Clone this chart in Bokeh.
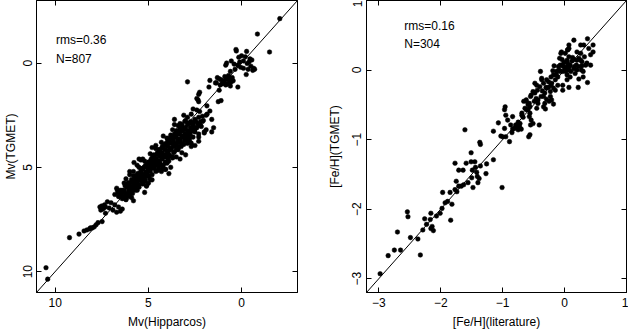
from bokeh.plotting import figure
from bokeh.models import Range1d, LinearAxis, FixedTicker, Slope, Label
from bokeh.layouts import row
from bokeh.embed import file_html
from bokeh.resources import INLINE

FONT = "Liberation Sans"

# ---------------- Left panel data: Mv(Hipparcos) vs Mv(TGMET) ----------------
mv_hip_bright = [-2.05, -0.85, -1.5, 0.3, 0.28, -0.27, 0.0, -0.2, 0.15, -0.45,
                 -0.55, 0.55, 0.8, 0.85, -0.1, 0.1, -0.3, -0.65, -0.7, -0.6,
                 -0.25, 0.05, -0.1, 0.2, 0.4, 0.35, -0.5, -0.35, 0.6, -0.4,
                 0.5, 0.6, 0.7, 0.8, 0.9, 1.0, 1.1, 1.2, 0.55, 0.65,
                 0.75, 0.85, 0.95, 1.05, 0.45, 1.3, 1.4, 0.9, 0.7, 1.15,
                 0.6, 0.2, 1.7, 1.75, 1.2, 2.25, 2.3, 2.9, 2.4, 2.3,
                 1.1, 1.25, 2.6, 2.4, 1.6, 1.85, 1.35, 1.86, 2.25, 2.34]
mv_tg_bright = [-2.13, -1.39, -0.53, -0.65, -0.58, -0.56, -0.35, -0.3, -0.28, -0.2,
                -0.15, -0.1, 0.0, 0.1, -0.1, -0.05, 0.02, 0.25, 0.3, 0.35,
                0.55, 0.2, 0.25, 0.1, 0.05, 0.3, 0.15, 0.3, 0.4, -0.05,
                0.7, 0.75, 0.8, 0.7, 0.85, 0.9, 0.8, 0.75, 0.9, 0.95,
                1.0, 1.05, 0.95, 1.0, 0.85, 0.7, 0.95, 0.65, 0.6, 1.05,
                1.1, 1.15, 0.83, 1.15, 1.3, 1.4, 1.5, 0.9, 1.7, 1.85,
                1.8, 1.85, 2.2, 2.25, 2.7, 2.45, 0.95, 2.05, 2.32, 1.76]

mv_hip_band = [3.1, 2.9, 2.7, 2.5, 2.3, 2.1, 3.0, 2.6, 3.3, 2.2,
               3.6, 3.4, 3.2, 3.0, 2.8, 2.6, 2.4, 2.2, 1.9, 1.6,
               3.7, 3.5, 3.3, 3.1, 2.9, 2.7, 2.5, 2.3, 2.0, 1.5,
               4.2, 4.0, 3.8, 3.6, 3.4, 3.2, 3.0, 2.8, 2.6, 2.3,
               4.3, 4.1, 3.9, 3.7, 3.5, 3.3, 3.1, 2.9, 2.7, 2.5,
               4.8, 4.6, 4.4, 4.2, 4.0, 3.8, 3.6, 3.4, 3.2, 3.0,
               4.9, 4.7, 4.5, 4.3, 4.1, 3.9, 3.7, 3.5, 3.3, 4.6,
               5.4, 5.2, 5.0, 4.8, 4.6, 4.4, 4.2, 4.0, 3.8, 5.6,
               5.5, 5.3, 5.1, 4.9, 4.7, 4.5, 4.3, 4.1, 5.8, 3.9,
               6.0, 5.8, 5.6, 5.4, 5.2, 5.0, 4.8, 6.2, 5.7, 5.3,
               6.3, 6.1, 5.9, 5.5, 5.1, 4.9, 6.0, 5.6, 5.2, 6.4,
               6.7, 6.5, 6.3, 6.1, 5.9, 6.6, 6.4, 6.2, 6.8, 5.8,
               7.2, 7.0, 6.8, 6.6, 6.4, 7.1, 6.9, 6.7, 7.3, 6.5]
mv_tg_band = [2.5, 2.6, 2.45, 2.7, 2.6, 2.55, 2.75, 2.85, 2.9, 2.8,
              2.95, 3.0, 3.05, 3.1, 2.9, 3.0, 3.1, 3.0, 3.2, 3.3,
              3.2, 3.25, 3.3, 3.2, 3.35, 3.25, 3.3, 3.4, 3.35, 3.1,
              3.5, 3.6, 3.45, 3.55, 3.65, 3.5, 3.6, 3.7, 3.55, 3.75,
              3.8, 3.9, 3.75, 3.85, 3.95, 3.8, 3.9, 3.85, 4.0, 3.95,
              4.05, 4.1, 4.15, 4.0, 4.2, 4.1, 4.25, 4.15, 4.3, 4.4,
              4.35, 4.4, 4.3, 4.45, 4.5, 4.4, 4.55, 4.5, 4.6, 4.6,
              4.65, 4.7, 4.75, 4.8, 4.7, 4.85, 4.9, 4.8, 5.0, 4.9,
              5.0, 5.05, 4.95, 5.1, 5.0, 5.15, 5.2, 5.1, 5.2, 5.3,
              5.35, 5.4, 5.45, 5.35, 5.5, 5.4, 5.6, 5.55, 5.65, 5.7,
              5.75, 5.8, 5.7, 5.85, 5.9, 5.6, 6.0, 6.1, 6.2, 6.1,
              6.0, 6.1, 6.2, 6.3, 6.45, 6.4, 6.5, 6.55, 6.3, 6.6,
              6.65, 6.7, 6.8, 6.9, 7.0, 6.95, 7.05, 7.15, 7.2, 7.1]

# dense core of the main-sequence blob
mv_hip_core = [3.05, 2.72, 2.45, 2.1, 3.2, 2.9, 2.6, 2.3, 3.3, 3.05,
               2.75, 2.45, 3.45, 3.2, 2.9, 2.55, 3.6, 3.35, 3.05, 2.75,
               3.8, 3.5, 3.2, 2.9, 3.95, 3.65, 3.35, 3.05, 4.05, 3.8,
               3.5, 3.2, 4.25, 3.95, 3.65, 3.35, 4.4, 4.1, 3.8, 3.5,
               4.5, 4.25, 3.95, 3.65, 4.7, 4.4, 4.1, 3.85, 4.85, 4.55,
               4.25, 3.95, 4.95, 4.7, 4.4, 4.1, 5.15, 4.85, 4.55, 4.3,
               5.3, 5.0, 4.7, 4.45, 5.4, 5.15, 4.9, 4.6, 5.6, 5.3,
               5.05, 4.8, 5.7, 5.45, 5.2, 4.95, 5.85, 5.6, 5.35, 5.15,
               6.0, 5.75, 5.55, 5.3, 6.15, 5.9, 5.7, 5.5, 6.3, 6.05,
               5.85, 5.7, 6.45, 6.2, 6.0, 5.85, 6.55, 6.35, 6.15, 6.0,
               2.85, 2.35, 3.12, 2.62, 3.38, 2.82, 3.55, 3.02, 3.72, 3.28,
               3.92, 3.42, 4.08, 3.6, 4.22, 3.78, 4.38, 3.96, 4.52, 4.12,
               4.68, 4.28, 4.86, 4.42, 5.02, 4.62, 5.22, 4.78, 5.38, 4.98,
               5.55, 5.12, 5.72, 5.3, 5.9, 5.48, 6.08, 5.66, 6.25, 5.8]
mv_tg_core = [2.8, 2.8, 2.8, 2.8, 2.95, 2.95, 2.95, 2.95, 3.1, 3.1,
              3.1, 3.1, 3.25, 3.25, 3.25, 3.25, 3.4, 3.4, 3.4, 3.4,
              3.55, 3.55, 3.55, 3.55, 3.7, 3.7, 3.7, 3.7, 3.85, 3.85,
              3.85, 3.85, 4.0, 4.0, 4.0, 4.0, 4.15, 4.15, 4.15, 4.15,
              4.3, 4.3, 4.3, 4.3, 4.45, 4.45, 4.45, 4.45, 4.6, 4.6,
              4.6, 4.6, 4.75, 4.75, 4.75, 4.75, 4.9, 4.9, 4.9, 4.9,
              5.05, 5.05, 5.05, 5.05, 5.2, 5.2, 5.2, 5.2, 5.35, 5.35,
              5.35, 5.35, 5.5, 5.5, 5.5, 5.5, 5.65, 5.65, 5.65, 5.65,
              5.8, 5.8, 5.8, 5.8, 5.95, 5.95, 5.95, 5.95, 6.1, 6.1,
              6.1, 6.1, 6.25, 6.25, 6.25, 6.25, 6.4, 6.4, 6.4, 6.4,
              2.88, 2.9, 3.18, 3.2, 3.33, 3.36, 3.48, 3.5, 3.63, 3.66,
              3.78, 3.8, 3.93, 3.96, 4.08, 4.1, 4.23, 4.26, 4.38, 4.4,
              4.53, 4.56, 4.68, 4.7, 4.83, 4.86, 4.98, 5.0, 5.13, 5.16,
              5.28, 5.3, 5.43, 5.46, 5.58, 5.6, 5.73, 5.76, 5.88, 5.9]

mv_hip_faint = [7.6, 7.5, 7.4, 7.3, 7.45, 7.55, 7.35, 7.48, 7.7, 7.8,
                7.9, 8.0, 8.15, 8.3, 8.45, 8.72, 9.23, 10.49, 10.4, 8.1,
                5.77, 4.77, 5.1, 5.0, 4.25, 4.07, 6.67, 6.63, 6.2, 1.9,
                2.16, 2.0, 2.3, 2.7, 3.0, 3.24, 3.7, 3.9, 4.41, 5.5,
                6.0, 4.6, 3.6, 1.7, 2.05, 2.5, 2.8, 3.5, 4.0, 5.3]
mv_tg_faint = [6.9, 6.85, 6.95, 6.9, 7.0, 7.05, 6.8, 7.6, 7.65, 7.75,
               7.85, 7.9, 7.95, 8.0, 8.05, 8.2, 8.37, 9.81, 10.36, 7.9,
               4.77, 4.48, 5.86, 5.76, 5.04, 5.09, 6.08, 6.21, 6.53, 2.5,
               3.04, 3.3, 3.55, 3.84, 3.7, 4.0, 4.5, 4.7, 4.8, 4.6,
               5.2, 3.95, 2.7, 2.3, 2.75, 3.15, 3.6, 3.35, 3.9, 4.6]

mv_ticks = [0, 5, 10]

# ---------------- Right panel data: [Fe/H] literature vs TGMET ----------------
feh_lit_poor = [-2.98, -2.85, -2.75, -2.65, -2.70, -2.49, -2.54, -2.53, -2.37, -2.33,
                -2.29, -2.26, -2.23, -2.17, -2.16, -2.16, -2.14, -2.12, -2.07, -2.01,
                -1.98, -1.97, -1.89, -1.93, -1.84, -1.82, -1.85, -1.77, -1.74, -1.71,
                -1.75, -1.67, -1.63, -1.77, -1.71, -1.64, -1.56, -1.50, -1.48, -1.59,
                -1.51, -1.45, -1.44, -1.49, -1.42, -1.41, -1.40, -1.38, -1.36, -1.26,
                -1.27, -1.37, -1.36, -1.51, -1.15, -1.61, -1.01, -1.15, -1.07, -1.03]
feh_tg_poor = [-2.93, -2.67, -2.59, -2.59, -2.33, -2.41, -2.04, -2.11, -2.43, -2.66,
               -2.30, -2.14, -2.22, -2.15, -2.28, -2.06, -2.25, -2.31, -2.10, -2.06,
               -1.99, -1.76, -1.89, -1.91, -2.16, -1.93, -1.76, -1.72, -1.75, -1.67,
               -1.60, -1.67, -1.65, -1.34, -1.44, -1.44, -1.62, -1.55, -1.69, -1.34,
               -1.32, -1.32, -1.40, -1.44, -1.47, -1.53, -1.62, -1.56, -1.38, -1.35,
               -1.49, -1.04, -1.07, -1.19, -1.29, -0.86, -1.69, -0.88, -0.76, -0.95]

feh_lit_mid = [-1.00, -0.96, -0.97, -0.95, -0.97, -0.95, -0.92, -0.89, -0.87, -0.84,
               -0.85, -0.84, -0.81, -0.78, -0.79, -0.75, -0.75, -0.73, -0.72, -0.70,
               -0.67, -0.69, -0.69, -0.64, -0.62, -0.59, -0.57, -0.56, -0.62, -0.56,
               -0.54, -0.55, -0.51, -0.58, -0.56, -0.59, -0.57, -0.49, -0.46, -0.45,
               -0.43, -0.41, -0.39, -0.37, -0.34, -0.34, -0.36, -0.32, -0.30, -0.29,
               -0.29, -0.26, -0.26, -0.23, -0.22, -0.22, -0.21, -0.19, -0.18, -0.18,
               -0.21, -0.23, -0.25, -0.18, -0.34, -0.31, -0.32, -0.29, -0.43, -0.38,
               -0.40, -0.37, -0.51, -0.48, -0.45, -0.44, -0.54, -0.55, -0.62, -0.66,
               -0.48, -0.17]
feh_tg_mid = [-0.96, -0.53, -0.57, -0.65, -0.84, -0.96, -0.72, -1.03, -0.79, -0.67,
              -0.90, -0.85, -0.84, -0.81, -0.79, -0.75, -0.86, -0.81, -0.77, -0.85,
              -0.68, -0.65, -0.62, -0.55, -0.45, -0.50, -0.48, -0.53, -0.57, -0.62,
              -0.72, -0.79, -0.77, -0.96, -0.93, -0.57, -0.67, -0.45, -0.41, -0.55,
              -0.43, -0.79, -0.02, -0.12, -0.38, -0.19, -0.30, -0.33, -0.25, -0.14,
              -0.26, -0.17, -0.25, -0.31, -0.22, -0.10, -0.19, -0.01, -0.07, -0.26,
              -0.43, -0.38, -0.45, -0.49, -0.53, -0.56, -0.48, -0.42, -0.48, -0.38,
              -0.24, -0.14, -0.31, -0.33, -0.22, -0.29, -0.36, -0.38, -0.43, -0.45,
              -0.19, 0.06]

feh_lit_rich = [-0.15, -0.15, -0.13, -0.13, -0.11, -0.10, -0.09, -0.08, -0.07, -0.07,
                -0.06, -0.05, -0.04, -0.03, -0.03, -0.02, -0.01, 0.01, 0.02, 0.04,
                0.04, 0.04, 0.05, 0.07, 0.08, 0.09, 0.09, 0.10, 0.12, 0.13,
                0.15, 0.15, 0.16, 0.17, 0.19, 0.20, 0.22, 0.23, 0.23, 0.27,
                0.28, 0.30, 0.30, 0.31, 0.37, 0.39, 0.42, 0.46, 0.46, 0.37,
                0.42, 0.07, 0.07, 0.01, 0.05, -0.03, 0.07, 0.04, 0.15, 0.26,
                0.26, 0.20, 0.23, 0.26, 0.28, 0.34, 0.32, 0.36, 0.20, 0.07,
                0.05, -0.04, -0.11]
feh_tg_rich = [-0.29, -0.14, -0.02, -0.07, -0.10, 0.05, 0.00, 0.17, 0.07, -0.02,
               0.24, 0.26, 0.15, -0.02, -0.29, 0.05, 0.11, 0.02, -0.02, 0.14,
               0.05, -0.07, 0.10, 0.00, 0.05, 0.07, -0.10, -0.02, 0.13, 0.18,
               0.15, 0.02, 0.05, -0.05, 0.07, 0.00, -0.25, -0.13, 0.05, 0.00,
               0.06, -0.02, -0.10, 0.36, 0.45, 0.31, 0.07, 0.36, 0.26, -0.18,
               0.22, 0.36, 0.31, 0.24, 0.29, -0.22, -0.25, -0.14, 0.43, 0.36,
               0.24, 0.26, 0.17, 0.14, 0.12, 0.07, 0.19, 0.10, 0.14, 0.19,
               0.29, 0.07, -0.22]

feh_ticks = [-3, -2, -1, 0, 1]
feh_labels = {-3: "\u22123", -2: "\u22122", -1: "\u22121", 0: "0", 1: "1"}


def style(p, ticks, overrides, ylabel_standoff, ytick_standoff):
    p.grid.visible = False
    p.outline_line_color = "black"
    p.outline_line_width = 1
    extra_top = LinearAxis()
    extra_right = LinearAxis()
    p.add_layout(extra_top, "above")
    p.add_layout(extra_right, "right")
    for ax in p.axis:
        ax.ticker = FixedTicker(ticks=ticks)
        ax.major_tick_in = 5
        ax.major_tick_out = 0
        ax.minor_tick_line_color = None
        ax.axis_line_color = "black"
        ax.major_tick_line_color = "black"
        ax.major_label_text_font = FONT
        ax.major_label_text_font_size = "12px"
        ax.major_label_text_color = "black"
        ax.axis_label_text_font = FONT
        ax.axis_label_text_font_size = "12px"
        ax.axis_label_text_font_style = "normal"
        ax.axis_label_text_color = "black"
        if overrides:
            ax.major_label_overrides = overrides
    for ax in (extra_top, extra_right):
        ax.major_label_overrides = {t: "" for t in ticks}
        ax.major_label_standoff = 0
        ax.axis_label = None
    p.xaxis[0].major_label_standoff = 6
    p.xaxis[0].axis_label_standoff = 17
    p.yaxis[0].major_label_orientation = "vertical"
    p.yaxis[0].major_label_standoff = ytick_standoff
    p.yaxis[0].axis_label_standoff = ylabel_standoff


# ---------------- Left figure ----------------
p1 = figure(output_backend="svg", toolbar_location=None,
            width=300, height=334,
            min_border_left=36, min_border_right=3, min_border_top=0, min_border_bottom=42,
            x_range=Range1d(11, -3), y_range=Range1d(11, -3),
            x_axis_label="Mv(Hipparcos)", y_axis_label="Mv(TGMET)")
p1.background_fill_color = "white"
p1.border_fill_color = "white"
style(p1, mv_ticks, None, 3, 4)
p1.add_layout(Slope(gradient=1, y_intercept=0, line_color="black", line_width=1))
for xs, ys in ((mv_hip_bright, mv_tg_bright), (mv_hip_band, mv_tg_band),
               (mv_hip_core, mv_tg_core), (mv_hip_faint, mv_tg_faint)):
    p1.scatter(xs, ys, size=4.6, fill_color="black", line_color="black", line_width=0.5)
p1.add_layout(Label(x=9.95, y=-1.12, text="rms=0.36", text_font=FONT, text_font_size="12px",
                    text_baseline="middle", text_align="left", text_color="black"))
p1.add_layout(Label(x=9.95, y=-0.2, text="N=807", text_font=FONT, text_font_size="12px",
                    text_baseline="middle", text_align="left", text_color="black"))

# ---------------- Right figure ----------------
p2 = figure(output_backend="svg", toolbar_location=None,
            width=328, height=334,
            min_border_left=66, min_border_right=2, min_border_top=0, min_border_bottom=42,
            x_range=Range1d(-3.2, 1), y_range=Range1d(-3.2, 1),
            x_axis_label="[Fe/H](literature)", y_axis_label="[Fe/H](TGMET)")
p2.background_fill_color = "white"
p2.border_fill_color = "white"
style(p2, feh_ticks, feh_labels, 8, 5)
p2.add_layout(Slope(gradient=1, y_intercept=0, line_color="black", line_width=1))
for xs, ys in ((feh_lit_poor, feh_tg_poor), (feh_lit_mid, feh_tg_mid), (feh_lit_rich, feh_tg_rich)):
    p2.scatter(xs, ys, size=4.6, fill_color="black", line_color="black", line_width=0.5)
p2.add_layout(Label(x=-2.59, y=0.64, text="rms=0.16", text_font=FONT, text_font_size="12px",
                    text_baseline="middle", text_align="left", text_color="black"))
p2.add_layout(Label(x=-2.59, y=0.38, text="N=304", text_font=FONT, text_font_size="12px",
                    text_baseline="middle", text_align="left", text_color="black"))

layout = row(p1, p2)

open("out.html", "w").write(file_html(layout, INLINE))
